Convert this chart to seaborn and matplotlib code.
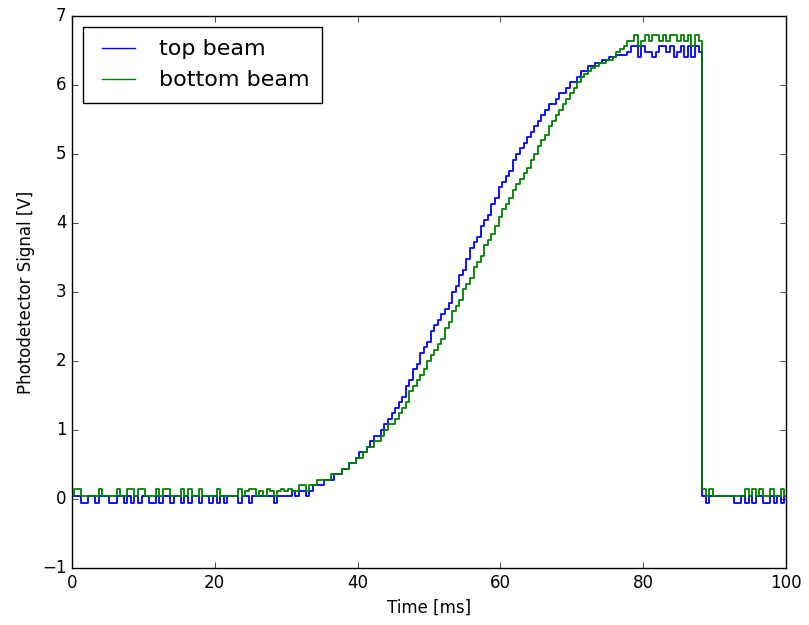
import matplotlib
matplotlib.use("Agg")
import matplotlib.pyplot as plt
import numpy as np
import pandas as pd
import seaborn as sns

# Sample times [ms], one every 0.5 ms
time_ms = np.arange(201) * 0.5

# top beam signal [V]
top_beam = [
    0.04, 0.04, 0.04, -0.06, -0.06, 0.04, 0.04, -0.06, 0.04, 0.04,
    0.04, -0.06, -0.06, 0.04, 0.04, -0.06, 0.04, -0.06, 0.04, -0.06,
    0.04, 0.04, -0.06, -0.06, 0.04, -0.06, 0.04, 0.04, -0.06, 0.04,
    0.04, -0.06, 0.04, -0.06, 0.04, 0.04, -0.06, 0.04, 0.04, -0.06,
    0.04, -0.06, 0.04, -0.06, 0.04, 0.04, 0.04, -0.06, 0.04, 0.04,
    -0.06, 0.04, 0.04, 0.04, 0.04, 0.04, 0.04, -0.06, 0.04, 0.04,
    0.04, 0.04, 0.12, 0.04, 0.12, 0.12, 0.04, 0.12, 0.2, 0.2,
    0.2, 0.28, 0.28, 0.28, 0.36, 0.36, 0.44, 0.44, 0.52, 0.52,
    0.6, 0.68, 0.68, 0.76, 0.84, 0.92, 0.92, 1.0, 1.08, 1.16,
    1.24, 1.32, 1.4, 1.48, 1.64, 1.72, 1.88, 1.96, 2.12, 2.2,
    2.28, 2.44, 2.52, 2.6, 2.68, 2.76, 2.84, 3.0, 3.08, 3.24,
    3.32, 3.48, 3.64, 3.72, 3.8, 3.96, 4.04, 4.12, 4.28, 4.36,
    4.52, 4.6, 4.68, 4.76, 4.92, 5.0, 5.08, 5.16, 5.24, 5.32,
    5.4, 5.48, 5.56, 5.64, 5.72, 5.72, 5.8, 5.88, 5.88, 5.96,
    6.04, 6.04, 6.12, 6.2, 6.2, 6.28, 6.28, 6.32, 6.32, 6.36,
    6.36, 6.4, 6.4, 6.44, 6.44, 6.44, 6.48, 6.56, 6.56, 6.4,
    6.56, 6.48, 6.48, 6.4, 6.48, 6.56, 6.56, 6.48, 6.56, 6.4,
    6.48, 6.56, 6.4, 6.56, 6.4, 6.56, 6.48, 0.04, -0.06, 0.04,
    0.04, 0.04, 0.04, 0.04, 0.04, 0.04, -0.06, -0.06, 0.04, -0.06,
    0.04, -0.06, 0.04, 0.04, -0.06, -0.06, 0.04, -0.06, 0.04, -0.06, 0.04,
]

# bottom beam signal [V]
bottom_beam = [
    0.04, 0.14, 0.14, 0.04, 0.04, 0.04, 0.04, 0.04, 0.14, 0.04,
    0.04, 0.04, 0.04, 0.14, 0.04, 0.04, 0.14, 0.14, 0.04, 0.14,
    0.14, 0.04, 0.04, 0.04, 0.14, 0.04, 0.14, 0.14, 0.04, 0.04,
    0.04, 0.14, 0.04, 0.14, 0.04, 0.04, 0.14, 0.04, 0.04, 0.04,
    0.04, 0.14, 0.04, 0.04, 0.04, 0.04, 0.04, 0.14, 0.04, 0.12,
    0.14, 0.14, 0.04, 0.12, 0.04, 0.14, 0.12, 0.04, 0.12, 0.14,
    0.12, 0.14, 0.12, 0.12, 0.2, 0.2, 0.12, 0.2, 0.2, 0.28,
    0.28, 0.28, 0.28, 0.36, 0.36, 0.36, 0.44, 0.44, 0.52, 0.52,
    0.6, 0.6, 0.68, 0.76, 0.76, 0.84, 0.84, 0.92, 1.0, 1.08,
    1.08, 1.16, 1.24, 1.32, 1.4, 1.56, 1.64, 1.72, 1.8, 1.88,
    2.0, 2.08, 2.16, 2.24, 2.32, 2.48, 2.56, 2.72, 2.8, 2.88,
    3.04, 3.12, 3.2, 3.36, 3.44, 3.52, 3.68, 3.76, 3.84, 3.96,
    4.08, 4.2, 4.28, 4.36, 4.48, 4.56, 4.64, 4.72, 4.8, 4.92,
    5.0, 5.12, 5.2, 5.28, 5.4, 5.48, 5.56, 5.64, 5.72, 5.8,
    5.88, 5.96, 6.04, 6.12, 6.16, 6.2, 6.24, 6.28, 6.32, 6.32,
    6.36, 6.36, 6.4, 6.48, 6.52, 6.56, 6.64, 6.64, 6.72, 6.56,
    6.64, 6.72, 6.64, 6.72, 6.72, 6.64, 6.72, 6.64, 6.72, 6.72,
    6.64, 6.72, 6.64, 6.72, 6.56, 6.72, 6.64, 0.14, 0.04, 0.14,
    0.04, 0.04, 0.04, 0.04, 0.04, 0.04, 0.04, 0.04, 0.04, 0.14,
    0.04, 0.14, 0.04, 0.14, 0.04, 0.04, 0.14, 0.04, 0.04, 0.14, 0.04,
]

beams = ["top beam", "bottom beam"]

df = pd.concat([
    pd.DataFrame({"time": time_ms, "signal": top_beam, "beam": beams[0]}),
    pd.DataFrame({"time": time_ms, "signal": bottom_beam, "beam": beams[1]}),
], ignore_index=True)

plt.style.use("classic")
fig = plt.figure(figsize=(8.09, 6.25), dpi=100, facecolor="white")
ax = fig.add_axes([72 / 809, 1 - 568 / 625, 714 / 809, 552 / 625])

sns.lineplot(data=df, x="time", y="signal", hue="beam", hue_order=beams,
             palette={"top beam": "b", "bottom beam": "g"},
             estimator=None, sort=False, drawstyle="steps-mid",
             linewidth=1.3, ax=ax)

ax.set_xlim(0, 100)
ax.set_ylim(-1, 7)
ax.set_xticks([0, 20, 40, 60, 80, 100])
ax.set_yticks(range(-1, 8))
ax.set_xlabel("Time [ms]")
ax.set_ylabel("Photodetector Signal [V]")

handles, labels = ax.get_legend_handles_labels()
for h in handles:
    h.set_linewidth(1.0)
ax.legend(handles, labels, loc="upper left", fontsize=16,
          handlelength=2.1, handletextpad=0.75, borderpad=0.55,
          labelspacing=0.5)

fig.savefig("out.png", dpi=100, facecolor="white")
